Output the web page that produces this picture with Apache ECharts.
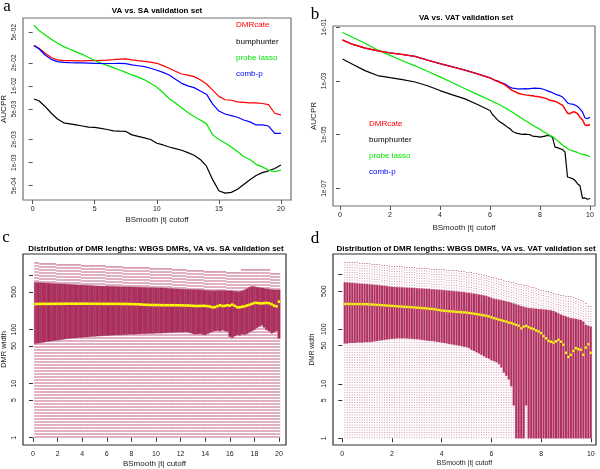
<!DOCTYPE html>
<html><head><meta charset="utf-8">
<script src="https://cdn.jsdelivr.net/npm/echarts@6/dist/echarts.min.js"></script>
<style>html,body{margin:0;padding:0;background:#fff}#c{width:600px;height:469px}</style>
</head><body><div id="c"></div>
<script>
// ---------- Panel a: VA vs. SA (AUCPR) ----------
const aCutoff = [0.1,0.5,1,1.5,2,2.5,3,3.5,4,4.5,5,5.5,6,6.5,7,7.5,8,8.5,9,9.5,10,10.5,11,11.5,12,12.5,13,13.5,14,14.5,15,15.5,16,16.5,17,17.5,18,18.5,19,19.5,20];
const aDMRcate = [0.0338,0.0310,0.0266,0.0235,0.0218,0.0214,0.0213,0.0212,0.0212,0.0213,0.0213,0.0215,0.0217,0.0220,0.0224,0.0225,0.0218,0.0213,0.0209,0.0204,0.0197,0.0184,0.0170,0.0155,0.0143,0.0138,0.0132,0.0120,0.0106,0.0088,0.0073,0.0066,0.0065,0.0062,0.0061,0.0060,0.0060,0.0059,0.0057,0.0044,0.0042];
const aBumphunter = [0.00675,0.0064,0.0054,0.0044,0.0037,0.0033,0.0032,0.0031,0.0030,0.0029,0.00288,0.0028,0.0027,0.0026,0.00257,0.00255,0.0023,0.0022,0.0021,0.0020,0.00179,0.0017,0.0016,0.00152,0.00145,0.00135,0.00125,0.0011,0.0009,0.0006,0.00043,0.0004,0.00041,0.00045,0.00052,0.0006,0.00068,0.00074,0.00078,0.00084,0.00093];
const aProbeLasso = [0.0617,0.053,0.0461,0.0405,0.0360,0.0325,0.0300,0.0278,0.0258,0.0235,0.0214,0.0198,0.0185,0.0173,0.0161,0.0150,0.0139,0.0130,0.0120,0.0108,0.0096,0.0082,0.0068,0.0060,0.0052,0.0045,0.0040,0.0036,0.0032,0.0023,0.0020,0.0018,0.0016,0.0014,0.0012,0.0011,0.00095,0.00088,0.0008,0.00076,0.0008];
const aCombP = [0.0335,0.0305,0.0253,0.0222,0.0207,0.0203,0.0201,0.0200,0.0199,0.0198,0.0197,0.0196,0.0196,0.0196,0.0197,0.0195,0.0188,0.0183,0.0178,0.0170,0.0160,0.0150,0.0139,0.0122,0.0108,0.0100,0.0095,0.0086,0.0078,0.0058,0.0047,0.0043,0.0041,0.0039,0.0036,0.0034,0.0031,0.0031,0.0030,0.0024,0.0024];
const aYTicks = [5e-4,1e-3,2e-3,5e-3,1e-2,2e-2,5e-2];
const aYLabels = ['5e-04','1e-03','2e-03','5e-03','1e-02','2e-02','5e-02'];
const aXTicks = [0,5,10,15,20];

// ---------- Panel b: VA vs. VAT (AUCPR) ----------
const bCutoff = [0.1,0.5,1,1.5,2,2.5,3,3.5,4,4.5,5,5.5,6,
 6.1,6.2,6.3,6.4,6.5,6.6,6.7,6.8,6.9,7.0,
 7.1,7.2,7.3,7.4,7.5,7.6,7.7,7.8,7.9,8.0,
 8.1,8.2,8.3,8.4,8.5,8.6,8.7,8.8,8.9,9.0,
 9.1,9.2,9.3,9.4,9.5,9.6,9.7,9.8,9.9,10.0];
const bDMRcate = [3.31e-2,2.29e-2,1.66e-2,1.32e-2,1.10e-2,9.55e-3,8.13e-3,5.89e-3,4.37e-3,3.31e-3,2.51e-3,1.82e-3,1.29e-3,
 1.17e-3,1.05e-3,9.55e-4,8.71e-4,7.94e-4,7.08e-4,6.03e-4,5.01e-4,4.37e-4,3.98e-4,
 3.55e-4,3.31e-4,3.16e-4,3.02e-4,2.95e-4,2.88e-4,2.82e-4,2.69e-4,2.63e-4,2.51e-4,
 2.40e-4,2.29e-4,2.09e-4,1.91e-4,1.82e-4,1.74e-4,1.58e-4,1.41e-4,1.26e-4,8.91e-5,
 6.31e-5,6.03e-5,6.92e-5,6.92e-5,6.03e-5,4.47e-5,3.55e-5,2.29e-5,2.19e-5,2.40e-5];
const bBumphunter = [6.46e-3,4.17e-3,2.40e-3,1.58e-3,1.32e-3,1.12e-3,9.12e-4,6.61e-4,4.37e-4,3.02e-4,2.14e-4,1.32e-4,7.94e-5,
 5.62e-5,4.47e-5,3.55e-5,2.95e-5,2.63e-5,2.24e-5,1.91e-5,1.66e-5,1.32e-5,1.20e-5,
 1.12e-5,1.07e-5,1.02e-5,1.05e-5,1.02e-5,1.00e-5,8.91e-6,8.71e-6,8.51e-6,8.13e-6,
 8.51e-6,8.91e-6,9.33e-6,9.12e-6,7.94e-6,3.47e-6,3.31e-6,3.02e-6,2.82e-6,2.24e-6,
 2.69e-7,2.51e-7,2.34e-7,2.00e-7,1.51e-7,1.26e-7,4.27e-8,4.47e-8,3.98e-8,4.27e-8];
const bProbeLasso = [6.31e-2,4.17e-2,2.51e-2,1.41e-2,8.91e-3,5.62e-3,3.63e-3,2.29e-3,1.41e-3,8.51e-4,5.13e-4,3.16e-4,1.91e-4,
 1.74e-4,1.55e-4,1.41e-4,1.26e-4,1.12e-4,1.00e-4,8.91e-5,7.76e-5,6.76e-5,5.89e-5,
 5.13e-5,4.47e-5,3.89e-5,3.39e-5,3.02e-5,2.63e-5,2.29e-5,2.00e-5,1.78e-5,1.58e-5,
 1.38e-5,1.20e-5,1.05e-5,9.33e-6,8.32e-6,7.08e-6,6.03e-6,5.01e-6,4.17e-6,3.55e-6,
 3.02e-6,2.69e-6,2.51e-6,2.34e-6,2.19e-6,2.00e-6,1.86e-6,1.78e-6,1.70e-6,1.51e-6];
const bCombP = [3.31e-2,2.29e-2,1.66e-2,1.32e-2,1.10e-2,9.55e-3,8.13e-3,5.89e-3,4.37e-3,3.31e-3,2.51e-3,1.82e-3,1.29e-3,
 1.17e-3,1.05e-3,1.00e-3,9.12e-4,8.32e-4,7.59e-4,6.61e-4,5.75e-4,5.37e-4,5.25e-4,
 5.01e-4,5.01e-4,5.01e-4,5.13e-4,5.01e-4,5.13e-4,5.25e-4,5.37e-4,5.25e-4,5.25e-4,
 5.01e-4,4.68e-4,4.27e-4,3.98e-4,3.63e-4,3.24e-4,3.02e-4,2.82e-4,2.51e-4,2.00e-4,
 1.51e-4,1.41e-4,1.38e-4,1.26e-4,1.12e-4,9.12e-5,6.92e-5,4.17e-5,3.98e-5,4.47e-5];
const bYTicks = [1e-7,1e-5,1e-3,1e-1];
const bYLabels = ['1e-07','1e-05','1e-03','1e-01'];
const bXTicks = [0,2,4,6,8,10];

// ---------- Panel c: DMR widths, VA vs. SA ----------
const cCutoff = [0.2,0.4,0.6,0.8,1.0,1.2,1.4,1.6,1.8,2.0,
 2.2,2.4,2.6,2.8,3.0,3.2,3.4,3.6,3.8,4.0,
 4.2,4.4,4.6,4.8,5.0,5.2,5.4,5.6,5.8,6.0,
 6.2,6.4,6.6,6.8,7.0,7.2,7.4,7.6,7.8,8.0,
 8.2,8.4,8.6,8.8,9.0,9.2,9.4,9.6,9.8,10.0,
 10.2,10.4,10.6,10.8,11.0,11.2,11.4,11.6,11.8,12.0,
 12.2,12.4,12.6,12.8,13.0,13.2,13.4,13.6,13.8,14.0,
 14.2,14.4,14.6,14.8,15.0,15.2,15.4,15.6,15.8,16.0,
 16.2,16.4,16.6,16.8,17.0,17.2,17.4,17.6,17.8,18.0,
 18.2,18.4,18.6,18.8,19.0,19.2,19.4,19.6,19.8,20.0];
const cLow = 1;
const cMax = [1760,1750,1740,1730,1720,1710,1700,1690,1680,1670,
 1665,1660,1650,1645,1640,1630,1625,1620,1610,1600,
 1595,1590,1585,1580,1575,1570,1560,1550,1540,1530,
 1520,1510,1500,1495,1490,1480,1470,1460,1455,1450,
 1445,1440,1435,1430,1425,1420,1415,1410,1405,1400,
 1395,1390,1385,1380,1370,1360,1350,1340,1330,1320,
 1310,1300,1295,1290,1280,1275,1270,1260,1250,1240,
 1230,1230,1220,1220,1210,1210,1200,1200,1190,1190,
 1185,1180,1180,1180,1310,1310,1320,1320,1310,1310,
 1320,1310,1310,1300,1310,1300,1110,1110,1105,1107];
const cQ3 = [750,745,740,735,730,725,720,715,712,708,
 704,700,696,692,688,684,680,676,672,668,
 664,660,656,652,648,645,642,640,638,636,
 634,632,630,628,626,624,622,620,618,616,
 614,612,610,608,606,604,602,600,598,596,
 594,592,590,586,582,578,574,570,566,563,
 560,558,556,554,552,550,548,546,540,535,
 530,528,525,525,527,528,530,528,526,524,
 520,512,506,504,520,545,575,610,630,625,
 610,600,592,580,570,560,550,543,543,543];
const cMedian = [298,299,299,300,300,300,300,300,301,301,
 301,301,301,302,302,302,302,302,302,302,
 302,302,302,301,301,301,301,300,300,300,
 300,300,300,300,299,299,299,298,298,297,
 296,295,294,292,290,288,287,286,286,285,
 285,284,284,283,283,283,283,283,282,282,
 281,280,279,278,276,275,274,275,276,275,
 272,268,258,262,272,282,274,276,282,278,
 290,276,260,258,266,270,280,288,300,312,
 312,308,306,310,312,308,296,278,270,330];
const cQ1 = [55,56,57,58,59,60,61,62,63,64,
 65,66,67,68,69,70,70,71,72,72,
 73,73,74,75,75,76,76,77,77,78,
 78,79,79,80,80,80,81,81,82,82,
 82,83,83,84,84,84,85,85,85,86,
 86,86,87,87,88,88,89,89,90,90,
 90,91,90,87,84,82,83,84,81,80,
 84,88,92,95,96,94,98,95,92,74,
 71,76,80,78,83,81,84,90,95,100,
 108,115,122,110,99,94,86,90,95,69];
const cXTicks = [0,2,4,6,8,10,12,14,16,18,20];

// ---------- Panel d: DMR widths, VA vs. VAT ----------
const dCutoff = [0.1,0.2,0.3,0.4,0.5,0.6,0.7,0.8,0.9,1.0,
 1.1,1.2,1.3,1.4,1.5,1.6,1.7,1.8,1.9,2.0,
 2.1,2.2,2.3,2.4,2.5,2.6,2.7,2.8,2.9,3.0,
 3.1,3.2,3.3,3.4,3.5,3.6,3.7,3.8,3.9,4.0,
 4.1,4.2,4.3,4.4,4.5,4.6,4.7,4.8,4.9,5.0,
 5.1,5.2,5.3,5.4,5.5,5.6,5.7,5.8,5.9,6.0,
 6.1,6.2,6.3,6.4,6.5,6.6,6.7,6.8,6.9,7.0,
 7.1,7.2,7.3,7.4,7.5,7.6,7.7,7.8,7.9,8.0,
 8.1,8.2,8.3,8.4,8.5,8.6,8.7,8.8,8.9,9.0,
 9.1,9.2,9.3,9.4,9.5,9.6,9.7,9.8,9.9,10.0];
const dLow = 1;
const dMax = [1740,1730,1720,1700,1690,1680,1665,1650,1640,1625,
 1610,1595,1580,1565,1550,1530,1510,1490,1470,1455,
 1445,1435,1425,1415,1405,1395,1385,1375,1365,1350,
 1340,1330,1320,1315,1305,1300,1290,1285,1275,1265,
 1255,1245,1235,1225,1215,1200,1190,1175,1160,1140,
 1120,1100,1080,1060,1040,1020,1000,980,950,920,
 890,860,840,820,800,780,760,740,720,700,
 680,665,650,635,620,605,590,570,550,530,
 515,505,495,480,465,450,440,430,420,410,
 400,400,395,380,360,345,330,300,270,270];
const dQ3 = [728,720,712,705,698,692,686,680,675,670,
 664,658,652,645,638,632,625,615,605,597,
 594,590,587,584,580,577,574,571,568,565,
 561,557,553,549,545,541,537,533,528,522,
 518,513,508,503,498,493,487,481,476,470,
 462,455,448,440,432,424,416,405,390,375,
 362,354,347,340,332,324,316,305,295,285,
 275,266,258,252,245,242,240,237,235,233,
 230,228,225,221,216,205,195,185,178,172,
 165,160,157,154,150,148,138,120,116,112];
const dMedian = [291,291,290,290,290,289,289,289,288,288,
 286,284,282,280,278,276,274,272,270,268,
 266,264,262,260,258,256,255,253,251,249,
 247,245,243,240,238,236,233,229,225,221,
 218,216,214,212,210,208,207,205,204,202,
 199,196,193,190,186,183,180,176,172,166,
 160,155,150,146,142,138,133,130,125,120,
 116,104,112,115,109,104,101,95,91,85,
 75,68,61,59,57,60,64,59,52,37,
 31,34,40,45,43,42,34,46,53,37];
const dQ1 = [55,55,56,56,56,57,57,57,58,58,
 58,59,60,61,62,63,64,65,66,67,
 67,68,68,68,68,68,67,67,66,66,
 65,64,63,62,61,61,60,59,58,57,
 56,55,54,53,52,51,50,49,48,47,
 45,42,40,38,36,34,32,30,29,27,
 26,25,23,20,16,14,12,9,4,1,
 1,1,1,4,1,1,1,1,1,1,
 1,1,1,1,1,1,1,1,1,1,
 1,1,1,1,1,1,1,1,1,1];
const dXTicks = [0,2,4,6,8,10];
const widthTicks = [1,5,10,50,100,500,1000];
const widthLabels = ['1','5','10','50','100','500',''];

// ---------- build ----------
const L = Math.log10;
const FONT = '"Liberation Sans", Arial, sans-serif';
const names = ['DMRcate','bumphunter','probe lasso','comb-p'];
const colors = {DMRcate:'#FF0000', bumphunter:'#000000', 'probe lasso':'#00E600', 'comb-p':'#0000FF'};

function lineSeries(name, xs, ys, idx, width) {
  return {type:'line', name, xAxisIndex:idx, yAxisIndex:idx,
    data: xs.map((x,i)=>[x, L(ys[i])]), showSymbol:false, symbol:'none',
    lineStyle:{color:colors[name], width:width||1.2}, itemStyle:{color:colors[name]},
    silent:true, animation:false, z: 3};
}
function labelFor(ticks, labels) {
  return v => { const i = ticks.findIndex(t => Math.abs(L(t) - v) < 1e-6); return i >= 0 ? labels[i] : ''; };
}
function xAxis(idx, min, max, ticks, o) {
  return {gridIndex:idx, type:'value', min, max,
    axisLine:{show:false}, splitLine:{show:false},
    axisTick:{show:true, length:4, customValues:ticks, lineStyle:{color:o.tc, width:1}},
    axisLabel:{customValues:ticks, margin:o.margin, fontSize:o.fs, color:'#222', fontFamily:FONT},
    name:'BSmooth |t| cutoff', nameLocation:'middle', nameGap:o.gap,
    nameTextStyle:{fontSize:o.nfs, color:'#222', fontFamily:FONT}};
}
function yAxis(idx, min, max, ticks, labels, o) {
  const lt = labels.map((l,i)=>l===''?null:L(ticks[i])).filter(v=>v!==null);
  return {gridIndex:idx, type:'value', min, max,
    axisLine:{show:false}, splitLine:{show:false},
    axisTick:{show:true, length:4, customValues:ticks.map(L), lineStyle:{color:o.tc, width:1}},
    axisLabel:{customValues:lt, rotate:90, margin:o.margin, fontSize:o.fs, color:'#222', fontFamily:FONT,
      formatter: labelFor(ticks, labels)},
    name:o.name, nameLocation:'middle', nameGap:o.gap, nameRotate:90,
    nameTextStyle:{fontSize:o.nfs, color:'#222', fontFamily:FONT}};
}
function boxData(xs, lo, q1, med, q3, hi) {
  return xs.map((x,i)=>[x, L(lo), L(q1[i]), L(med[i]), L(q3[i]), L(hi[i])]);
}
function boxSeries(idx, data, step, o) {
  return {type:'custom', xAxisIndex:idx, yAxisIndex:idx, data, silent:true, animation:false, z:2,
    encode:{x:0, y:[1,2,3,4,5]},
    renderItem:function(params, api){
      const x = api.value(0);
      const lo = api.coord([x, api.value(1)]);
      const q1 = api.coord([x, api.value(2)]);
      const q3 = api.coord([x, api.value(4)]);
      const hi = api.coord([x, api.value(5)]);
      const sp = api.size([step, 0])[0];
      const w = sp * o.frac;
      const cx = lo[0];
      const ws = {stroke:'#B03060', lineWidth:o.ww, lineDash:o.dash, opacity:o.wo};
      const yHi = Math.round(hi[1]), yLo = Math.round(lo[1]);
      return {type:'group', children:[
        {type:'line', shape:{x1:cx, y1:yHi, x2:cx, y2:q3[1]}, style:ws},
        {type:'line', shape:{x1:cx, y1:yLo, x2:cx, y2:q1[1]}, style:ws},
        {type:'line', shape:{x1:cx-w/4, y1:yHi+0.5, x2:cx+w/4, y2:yHi+0.5}, style:{stroke:'#B03060', lineWidth:0.8, opacity:o.wo}},
        {type:'rect', shape:{x:cx-w/2, y:q3[1], width:w, height:Math.max(0.5, q1[1]-q3[1])},
          style:{fill:'#B03060', stroke:o.bs, lineWidth:o.bw}}
      ]};
    }};
}
function medianSeries(idx, data, step, o) {
  return {type:'custom', xAxisIndex:idx, yAxisIndex:idx, data, silent:true, animation:false, z:4,
    encode:{x:0, y:[1,2,3,4,5]},
    renderItem:function(params, api){
      const x = api.value(0);
      const md = api.coord([x, api.value(3)]);
      const w = api.size([step, 0])[0] * o.frac;
      return {type:'line', shape:{x1:md[0]-w/2, y1:md[1], x2:md[0]+w/2, y2:md[1]}, style:{stroke:'#FFFF00', lineWidth:o.mw}};
    }};
}

const grids = [
  {left:23, top:18, width:268, height:182},
  {left:333, top:26, width:262, height:180},
  {left:23, top:254, width:263, height:191},
  {left:333, top:254, width:263, height:191}
].map((g,i)=>Object.assign(g, {show:true, borderColor: i<2 ? '#707070' : '#303030', borderWidth:1.2, backgroundColor:'transparent', outerBoundsMode:'none', containLabel:false}));

const series = [];
['DMRcate','bumphunter','probe lasso','comb-p'].forEach(n=>{
  const arr = {DMRcate:aDMRcate, bumphunter:aBumphunter, 'probe lasso':aProbeLasso, 'comb-p':aCombP}[n];
  series.push(lineSeries(n, aCutoff, arr, 0));
});
['comb-p','bumphunter','probe lasso','DMRcate'].forEach(n=>{
  const arr = {DMRcate:bDMRcate, bumphunter:bBumphunter, 'probe lasso':bProbeLasso, 'comb-p':bCombP}[n];
  series.push(lineSeries(n, bCutoff, arr, 1, n === 'DMRcate' ? 1.45 : 1.2));
});
const cBoxes = boxData(cCutoff, cLow, cQ1, cMedian, cQ3, cMax);
const dBoxes = boxData(dCutoff, dLow, dQ1, dMedian, dQ3, dMax);
series.push(boxSeries(2, cBoxes, 0.2, {frac:1.0, ww:2.5, dash:[2,1], wo:0.38, bs:'#8a1e48', bw:0.3}));
series.push(medianSeries(2, cBoxes, 0.2, {frac:1.02, mw:2.6}));
series.push(boxSeries(3, dBoxes, 0.1, {frac:0.8, ww:0.9, dash:[1,1.5], wo:0.55, bs:'#B03060', bw:0.2}));
series.push(medianSeries(3, dBoxes, 0.1, {frac:0.8, mw:2.4}));

function txt(text, x, y, font, fill, align) {
  return {type:'text', x, y, silent:true, z:10,
    style:{text, font, fill:fill||'#000', align:align||'center', verticalAlign:'middle'}};
}
const TB = 'bold 8px ' + FONT;
const LG = '8px ' + FONT;
const SERIF = '17px "Liberation Serif", "DejaVu Serif", serif';
const graphic = [
  txt('a', 7, 7, SERIF), txt('b', 315, 14.5, SERIF), txt('c', 6, 237.5, SERIF), txt('d', 315, 238.5, SERIF),
  txt('VA vs. SA validation set', 157, 11, TB),
  txt('VA vs. VAT validation set', 466, 18, TB),
  txt('Distribution of DMR lengths: WBGS DMRs, VA vs. SA validation set', 156, 248.5, TB),
  txt('Distribution of DMR lengths: WBGS DMRs, VA vs. VAT validation set', 466, 248.5, TB)
];
[25, 41.7, 57.7, 73.3].forEach((y,i)=>graphic.push(txt(names[i], 236, y, LG, colors[names[i]], 'left')));
[124, 140, 156, 172].forEach((y,i)=>graphic.push(txt(names[i], 369, y, LG, colors[names[i]], 'left')));

const option = {
  backgroundColor:'#fff', animation:false,
  grid: grids,
  xAxis: [
    xAxis(0, -0.78, 20.81, aXTicks, {tc:'#555', margin:6, fs:7, gap:16, nfs:8}),
    xAxis(1, -0.28, 10.2, bXTicks, {tc:'#555', margin:6, fs:7, gap:18, nfs:8}),
    xAxis(2, -0.813, 20.57, cXTicks, {tc:'#333', margin:6, fs:7, gap:15, nfs:8}),
    xAxis(3, -0.374, 10.21, dXTicks, {tc:'#333', margin:6, fs:7, gap:15, nfs:7})
  ],
  yAxis: [
    yAxis(0, -3.487, -1.115, aYTicks, aYLabels, {tc:'#555', margin:5, fs:6.5, name:'AUCPR', gap:15, nfs:8}),
    yAxis(1, -7.65, -0.96, bYTicks, bYLabels, {tc:'#555', margin:5, fs:6.5, name:'AUCPR', gap:15, nfs:8}),
    yAxis(2, -0.135, 3.40, widthTicks, widthLabels, {tc:'#333', margin:5, fs:7, name:'DMR width', gap:15, nfs:7.5}),
    yAxis(3, -0.123, 3.38, widthTicks, widthLabels, {tc:'#333', margin:5, fs:7, name:'DMR width', gap:17, nfs:6.5})
  ],
  series,
  graphic
};
const chart = echarts.init(document.getElementById('c'), null, {renderer:'canvas'});
chart.setOption(option);
</script>
</body></html>
